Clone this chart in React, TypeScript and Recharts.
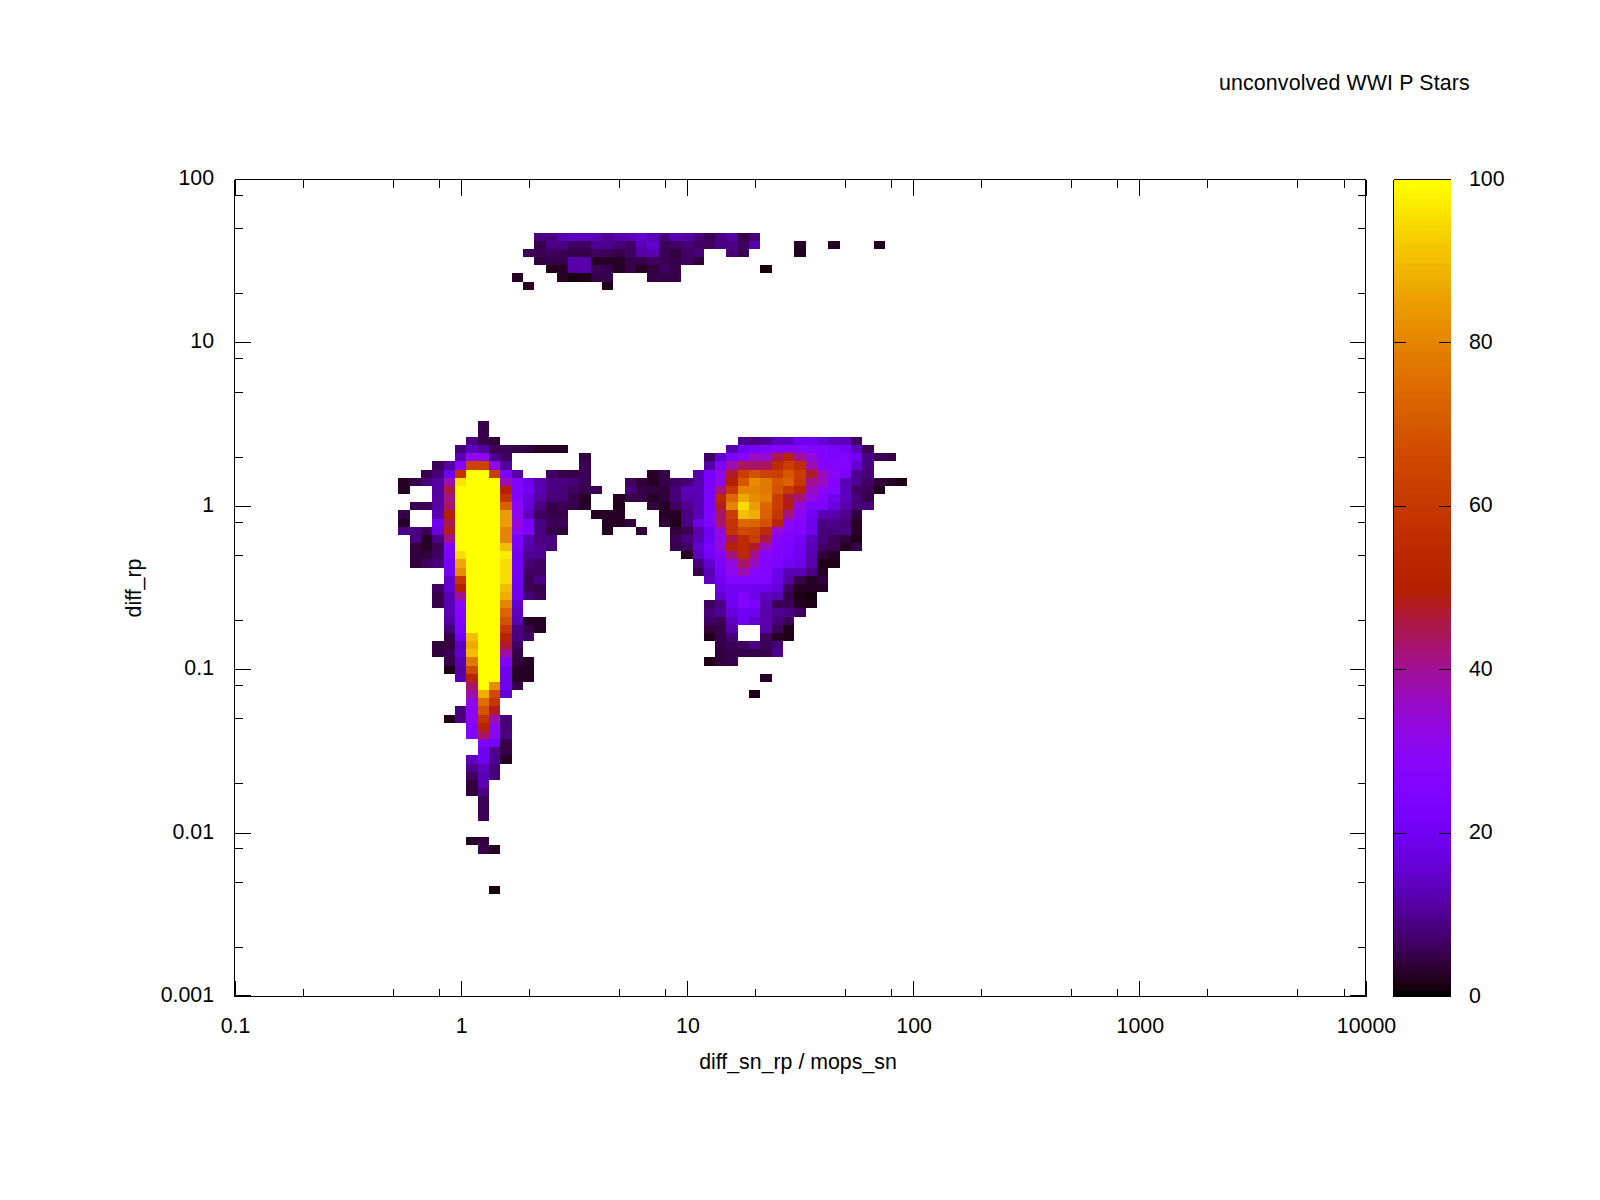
import React from 'react';
import { ScatterChart, Scatter, XAxis, YAxis } from 'recharts';

const xTicks = [
    0.1, 0.2, 0.5, 0.8, 1, 2, 5, 8, 10, 20, 50, 80, 100, 200, 500, 800,
    1000, 2000, 5000, 8000, 10000,
];
const xLabels = [0.1, 1, 10, 100, 1000, 10000];
const yTicks = [
    0.001, 0.002, 0.005, 0.008, 0.01, 0.02, 0.05, 0.08, 0.1, 0.2, 0.5, 0.8,
    1, 2, 5, 8, 10, 20, 50, 80, 100,
];
const yLabels = [0.001, 0.01, 0.1, 1, 10, 100];
const colorTicks = [0, 20, 40, 60, 80, 100];

// [row, first column, values]; bins are 0.05 dex wide, column 0 is x=0.1, row 0 is y=0.001
const leftPlume: [number, number, number[]][] = [
    [70, 22, [5]],
    [69, 22, [5]],
    [68, 21, [9, 5, 4]],
    [67, 20, [8, 14, 11, 6, 6, 5, 4, 3, 3, 3]],
    [66, 20, [13, 31, 31, 10, 7]],
    [66, 31, [4]],
    [65, 18, [6, 11, 28, 64, 64, 32, 11]],
    [65, 31, [6]],
    [64, 17, [5, 8, 19, 58, 100, 100, 62, 24, 11]],
    [64, 28, [7, 5, 5, 6]],
    [63, 15, [3, 5, 8, 11, 38, 96, 100, 100, 100, 38, 25, 19, 12, 9, 9, 8, 6]],
    [62, 15, [3]],
    [62, 18, [11, 46, 100, 100, 100, 100, 50, 25, 21, 13, 9, 8, 7, 5, 6]],
    [61, 18, [11, 42, 100, 100, 100, 100, 58, 25, 17, 11, 8, 8, 5, 3]],
    [60, 16, [6, 6, 11, 43, 100, 100, 100, 100, 72, 30, 17, 9, 5, 6, 5, 3]],
    [59, 15, [5]],
    [59, 18, [13, 50, 100, 100, 100, 100, 85, 31, 14, 7, 5, 5]],
    [59, 32, [3, 3, 3]],
    [58, 15, [3]],
    [58, 18, [20, 46, 100, 100, 100, 100, 85, 34, 23, 9, 6, 6]],
    [58, 33, [3, 3, 4]],
    [57, 15, [9, 9, 6, 17, 48, 100, 100, 100, 100, 80, 31, 24, 9, 5, 4]],
    [57, 33, [3]],
    [57, 36, [4]],
    [56, 16, [9, 3, 9, 40, 100, 100, 100, 100, 80, 23, 13, 9, 9]],
    [55, 16, [4, 3, 6, 25, 100, 100, 100, 100, 90, 23, 12, 10, 8]],
    [54, 16, [4, 4, 7, 24, 95, 100, 100, 100, 97, 20, 10, 10]],
    [53, 16, [4, 7, 8, 21, 86, 100, 100, 100, 95, 21, 8, 7]],
    [52, 19, [21, 82, 100, 100, 100, 95, 21, 7, 7]],
    [51, 19, [15, 60, 100, 100, 100, 95, 20, 6, 9]],
    [50, 18, [7, 15, 50, 100, 100, 100, 90, 18, 6, 5]],
    [49, 18, [5, 13, 40, 100, 100, 100, 88, 19, 8, 6]],
    [48, 18, [5, 13, 30, 100, 100, 100, 80, 15]],
    [47, 19, [13, 27, 100, 100, 100, 73, 14]],
    [46, 19, [11, 25, 100, 100, 100, 68, 13, 3, 3]],
    [45, 19, [8, 24, 100, 100, 100, 60, 9, 5, 3]],
    [44, 19, [5, 20, 90, 100, 100, 52, 9, 7]],
    [43, 18, [4, 4, 14, 87, 100, 100, 47, 7]],
    [42, 18, [4, 6, 15, 90, 100, 100, 39, 5]],
    [41, 19, [5, 13, 78, 100, 100, 25, 4, 3]],
    [40, 19, [2, 11, 66, 100, 100, 20, 3, 3]],
    [39, 20, [13, 53, 100, 100, 19, 3, 3]],
    [38, 21, [43, 100, 82, 19, 5]],
    [37, 21, [39, 88, 66, 16]],
    [36, 21, [32, 75, 60]],
    [35, 20, [8, 30, 68, 48]],
    [34, 19, [2, 9, 30, 58, 38, 8]],
    [33, 21, [26, 52, 30, 8]],
    [32, 21, [25, 44, 30, 9]],
    [31, 22, [25, 22, 5]],
    [30, 22, [19, 10, 5]],
    [29, 21, [14, 20, 10, 3]],
    [28, 21, [10, 14, 8]],
    [27, 21, [7, 13, 8]],
    [26, 21, [4, 13]],
    [25, 21, [4, 9]],
    [24, 22, [6]],
    [23, 22, [6]],
    [22, 22, [6]],
    [19, 21, [3, 4]],
    [18, 22, [5, 3]],
    [13, 23, [1]],
];

const rightPlume: [number, number, number[]][] = [
    [68, 45, [10, 9, 10, 14, 14, 19, 20, 16, 14, 14, 7]],
    [67, 44, [12, 20, 23, 25, 28, 28, 28, 27, 25, 23, 21, 14, 6]],
    [66, 42, [7, 15, 24, 28, 36, 35, 45, 53, 40, 33, 25, 24, 24, 20, 9, 6, 5]],
    [65, 42, [11, 24, 38, 44, 43, 44, 55, 62, 57, 38, 27, 27, 25, 15, 9]],
    [64, 37, [3, 5]],
    [64, 41, [12, 23, 32, 47, 62, 68, 64, 63, 70, 62, 47, 36, 30, 24, 10, 8]],
    [63, 35, [7, 4, 3, 5, 7, 8, 12, 23, 32, 50, 70, 82, 78, 70, 72, 60, 40, 37, 26, 13, 10, 7, 4, 3, 2]],
    [62, 32, [6]],
    [62, 35, [8, 5, 4, 4, 8, 13, 13, 23, 42, 60, 80, 80, 78, 68, 60, 52, 36, 30, 27, 14, 7, 6, 2]],
    [61, 34, [3, 5, 5, 3, 4, 8, 12, 13, 24, 54, 74, 87, 82, 79, 62, 47, 42, 33, 27, 20, 14, 8, 5]],
    [60, 34, [2]],
    [60, 37, [4, 3, 7, 10, 13, 24, 48, 80, 95, 85, 74, 62, 49, 33, 24, 24, 17, 12, 8, 8]],
    [59, 38, [3, 3, 9, 13, 25, 43, 62, 90, 88, 72, 60, 42, 30, 21, 13, 12, 10, 4]],
    [58, 35, [4]],
    [58, 38, [4, 2, 9, 18, 25, 43, 58, 74, 73, 68, 53, 30, 28, 18, 9, 10, 8, 3]],
    [57, 39, [4, 6, 12, 20, 34, 58, 66, 64, 54, 34, 28, 26, 19, 8, 8, 9, 3]],
    [56, 39, [6, 9, 13, 20, 32, 46, 54, 62, 46, 28, 25, 22, 14, 8, 6, 4, 2]],
    [55, 39, [5, 7, 15, 23, 34, 50, 54, 47, 36, 27, 24, 20, 13, 7, 6, 3, 5]],
    [54, 40, [3, 14, 21, 27, 42, 54, 40, 28, 25, 23, 20, 12, 4, 3]],
    [53, 41, [8, 15, 24, 33, 43, 36, 27, 24, 21, 18, 12, 2, 2]],
    [52, 41, [5, 13, 22, 31, 38, 28, 27, 19, 13, 13, 9, 3]],
    [51, 42, [14, 21, 25, 25, 25, 25, 18, 11, 5, 3, 4]],
    [50, 43, [18, 21, 21, 20, 19, 16, 7, 3, 3, 3]],
    [49, 43, [15, 21, 25, 18, 14, 13, 5, 2, 1]],
    [48, 42, [7, 9, 19, 25, 24, 13, 6, 6, 3, 2]],
    [47, 42, [8, 10, 17, 20, 19, 12, 10, 9, 7]],
    [46, 42, [7, 6, 14, 21, 15, 12, 8, 6]],
    [45, 42, [4, 5, 12]],
    [45, 47, [12, 6, 2]],
    [44, 42, [2, 5, 8]],
    [44, 47, [7, 3, 2]],
    [43, 43, [5, 6, 7, 9, 6, 8]],
    [42, 43, [4, 5, 5, 5, 5, 10]],
    [41, 42, [2, 4, 5]],
    [39, 47, [3]],
    [37, 46, [2]],
];

const topCluster: [number, number, number[]][] = [
    [93, 27, [9, 9, 12, 14, 14, 13, 10, 12, 13, 15, 13, 8, 12, 11, 8, 6, 9, 11, 5, 8]],
    [92, 27, [5, 9, 9, 7, 7, 10, 10, 8, 7, 13, 15, 6, 7, 8, 7, 7, 9, 9, 7, 12]],
    [92, 50, [3]],
    [92, 53, [3]],
    [92, 57, [2]],
    [91, 26, [6, 6, 7, 6, 5, 5, 7, 6, 5, 7, 11, 13, 6, 4, 7, 8]],
    [91, 44, [8, 6]],
    [91, 50, [3]],
    [90, 27, [4, 5, 5, 12, 12, 3, 3, 3, 5, 5, 7, 6, 5, 7, 4]],
    [89, 28, [2, 3, 11, 12, 6, 5, 3, 5, 3, 4, 7, 5]],
    [89, 47, [1]],
    [88, 25, [3]],
    [88, 29, [3, 1, 2, 5, 5]],
    [88, 37, [5, 5, 5]],
    [87, 26, [3]],
    [87, 33, [2]],
];

const PAGE_W = 1600;
const PAGE_H = 1200;
const LEFT = 234.5;
const RIGHT = 1365.5;
const TOP = 179.5;
const BOTTOM = 996.5;
const BAR_LEFT = 1393.5;
const BAR_RIGHT = 1450.5;
const CELL_W = (RIGHT - LEFT) / 100;
const CELL_H = (BOTTOM - TOP) / 100;
const PALETTE_SIZE = 128;
const BAND_H = (BOTTOM - TOP) / PALETTE_SIZE;
const FONT = '"Liberation Sans", sans-serif';
const FONT_SIZE = 21.33;

// gnuplot rgbformulae 7,5,15 with 128 colours
const paletteColor = (v: number) => {
    const level = Math.min(PALETTE_SIZE - 1, Math.floor((v / 100) * PALETTE_SIZE));
    const t = level / (PALETTE_SIZE - 1);
    const r = Math.sqrt(t);
    const g = t * t * t;
    const b = Math.max(0, Math.sin(2 * Math.PI * t));
    return `rgb(${Math.round(r * 255)},${Math.round(g * 255)},${Math.round(b * 255)})`;
};

const cells = [...leftPlume, ...rightPlume, ...topCluster].flatMap(([row, first, values]) =>
    values.map((v, i) => ({
        x: Math.pow(10, -1 + (first + i) * 0.05),
        y: Math.pow(10, -3 + row * 0.05),
        v,
    })),
);

const bands = Array.from({ length: PALETTE_SIZE }, (_, i) => ({
    x: 0.5,
    y: ((i + 0.5) / PALETTE_SIZE) * 100,
    v: ((i + 0.5) / PALETTE_SIZE) * 100,
}));

const CellShape = (props: any) => (
    <rect
        x={props.cx - CELL_W / 2}
        y={props.cy - CELL_H / 2}
        width={CELL_W}
        height={CELL_H}
        fill={paletteColor(props.payload.v)}
        shapeRendering="crispEdges"
    />
);

const BandShape = (props: any) => (
    <rect
        x={BAR_LEFT}
        y={props.cy - BAND_H / 2}
        width={BAR_RIGHT - BAR_LEFT}
        height={BAND_H + 0.5}
        fill={paletteColor(props.payload.v)}
        shapeRendering="crispEdges"
    />
);

// the mirror axes need a series to get their ticks, but it draws nothing
const NoShape = () => <g />;

const tickLine = (x1: number, y1: number, x2: number, y2: number) => (
    <line x1={x1} y1={y1} x2={x2} y2={y2} stroke="#000" strokeWidth={1} shapeRendering="crispEdges" />
);

const label = (x: number, y: number, anchor: string, text: string) => (
    <text x={x} y={y} textAnchor={anchor} fontFamily={FONT} fontSize={FONT_SIZE} fill="#000">
        {text}
    </text>
);

// the first tick of each axis sits a pixel inside the frame, so it shows as a thick stub
const tickX = (x: number, value: number) => (value === xTicks[0] ? x + 1 : x + 0.5);
const tickY = (y: number, value: number) => (value === yTicks[0] ? y - 1 : y);

const BottomTick = ({ x, payload }: any) => {
    const major = xLabels.includes(payload.value);
    const px = tickX(x, payload.value);
    return (
        <g>
            {tickLine(px, BOTTOM, px, BOTTOM - (major ? 16 : 8))}
            {major && label(x + 1, 1033, 'middle', String(payload.value))}
        </g>
    );
};

const TopTick = ({ x, payload }: any) => {
    const px = tickX(x, payload.value);
    return <g>{tickLine(px, TOP, px, TOP + (xLabels.includes(payload.value) ? 16 : 8))}</g>;
};

const LeftTick = ({ y, payload }: any) => {
    const major = yLabels.includes(payload.value);
    const py = tickY(y, payload.value);
    return (
        <g>
            {tickLine(LEFT, py, LEFT + (major ? 16 : 8), py)}
            {major && label(214, y + 5.5, 'end', String(payload.value))}
        </g>
    );
};

const RightTick = ({ y, payload }: any) => {
    const py = tickY(y, payload.value);
    return <g>{tickLine(RIGHT, py, RIGHT - (yLabels.includes(payload.value) ? 16 : 8), py)}</g>;
};

const ColorTick = ({ y, payload }: any) => (
    <g>
        {tickLine(BAR_LEFT, y, BAR_LEFT + 12, y)}
        {tickLine(BAR_RIGHT, y, BAR_RIGHT - 12, y)}
        {label(1469, y + 6, 'start', String(payload.value))}
    </g>
);

const frameLine = { stroke: '#000', strokeWidth: 1, shapeRendering: 'crispEdges' };

const App: React.FC = () => (
    <div style={{ position: 'absolute', left: 0, top: 0, width: PAGE_W, height: PAGE_H, background: '#fff' }}>
        <div style={{ position: 'absolute', left: 0, top: 0 }}>
            <ScatterChart
                width={PAGE_W}
                height={PAGE_H}
                margin={{ top: TOP - 1, right: PAGE_W - RIGHT - 1, bottom: 0, left: 0 }}
            >
                <XAxis
                    xAxisId="bottom"
                    type="number"
                    dataKey="x"
                    scale="log"
                    domain={[0.1, 10000]}
                    ticks={xTicks}
                    interval={0}
                    height={PAGE_H - BOTTOM}
                    tickSize={0}
                    tickMargin={0}
                    tickLine={false}
                    axisLine={frameLine}
                    tick={BottomTick}
                />
                <XAxis
                    xAxisId="top"
                    orientation="top"
                    type="number"
                    dataKey="x"
                    scale="log"
                    domain={[0.1, 10000]}
                    ticks={xTicks}
                    interval={0}
                    height={1}
                    tickSize={0}
                    tickMargin={0}
                    tickLine={false}
                    axisLine={frameLine}
                    tick={TopTick}
                />
                <YAxis
                    yAxisId="left"
                    type="number"
                    dataKey="y"
                    scale="log"
                    domain={[0.001, 100]}
                    ticks={yTicks}
                    interval={0}
                    width={LEFT}
                    tickSize={0}
                    tickMargin={0}
                    tickLine={false}
                    axisLine={frameLine}
                    tick={LeftTick}
                />
                <YAxis
                    yAxisId="right"
                    orientation="right"
                    type="number"
                    dataKey="y"
                    scale="log"
                    domain={[0.001, 100]}
                    ticks={yTicks}
                    interval={0}
                    width={1}
                    tickSize={0}
                    tickMargin={0}
                    tickLine={false}
                    axisLine={frameLine}
                    tick={RightTick}
                />
                <Scatter
                    xAxisId="bottom"
                    yAxisId="left"
                    data={cells}
                    shape={CellShape}
                    isAnimationActive={false}
                />
                <Scatter
                    xAxisId="top"
                    yAxisId="right"
                    data={cells.slice(0, 1)}
                    shape={NoShape}
                    isAnimationActive={false}
                />
                <text x={1219} y={90} fontFamily={FONT} fontSize={FONT_SIZE} letterSpacing={0.15} fill="#000">
                    unconvolved WWI P Stars
                </text>
                <text x={798} y={1069} textAnchor="middle" fontFamily={FONT} fontSize={FONT_SIZE} fill="#000">
                    diff_sn_rp / mops_sn
                </text>
                <text
                    transform="translate(141,588) rotate(-90)"
                    textAnchor="middle"
                    fontFamily={FONT}
                    fontSize={FONT_SIZE}
                    fill="#000"
                >
                    diff_rp
                </text>
            </ScatterChart>
        </div>
        <div style={{ position: 'absolute', left: 0, top: 0 }}>
            <ScatterChart
                width={PAGE_W}
                height={PAGE_H}
                margin={{ top: TOP - 1, right: PAGE_W - BAR_RIGHT - 1, bottom: PAGE_H - BOTTOM - 1, left: BAR_LEFT - 1 }}
            >
                <XAxis xAxisId="barBottom" type="number" dataKey="x" domain={[0, 1]} ticks={[0, 1]} height={1} tickLine={false} axisLine={frameLine} tick={false} />
                <XAxis xAxisId="barTop" orientation="top" type="number" dataKey="x" domain={[0, 1]} ticks={[0, 1]} height={1} tickLine={false} axisLine={frameLine} tick={false} />
                <YAxis yAxisId="barLeft" type="number" dataKey="y" domain={[0, 100]} ticks={[0, 100]} width={1} tickLine={false} axisLine={frameLine} tick={false} />
                <YAxis
                    yAxisId="barRight"
                    orientation="right"
                    type="number"
                    dataKey="y"
                    domain={[0, 100]}
                    ticks={colorTicks}
                    interval={0}
                    width={1}
                    tickSize={0}
                    tickMargin={0}
                    tickLine={false}
                    axisLine={frameLine}
                    tick={ColorTick}
                />
                <Scatter
                    xAxisId="barBottom"
                    yAxisId="barLeft"
                    data={bands}
                    shape={BandShape}
                    isAnimationActive={false}
                />
                <Scatter
                    xAxisId="barTop"
                    yAxisId="barRight"
                    data={bands.slice(0, 1)}
                    shape={NoShape}
                    isAnimationActive={false}
                />
            </ScatterChart>
        </div>
    </div>
);

export default App;
